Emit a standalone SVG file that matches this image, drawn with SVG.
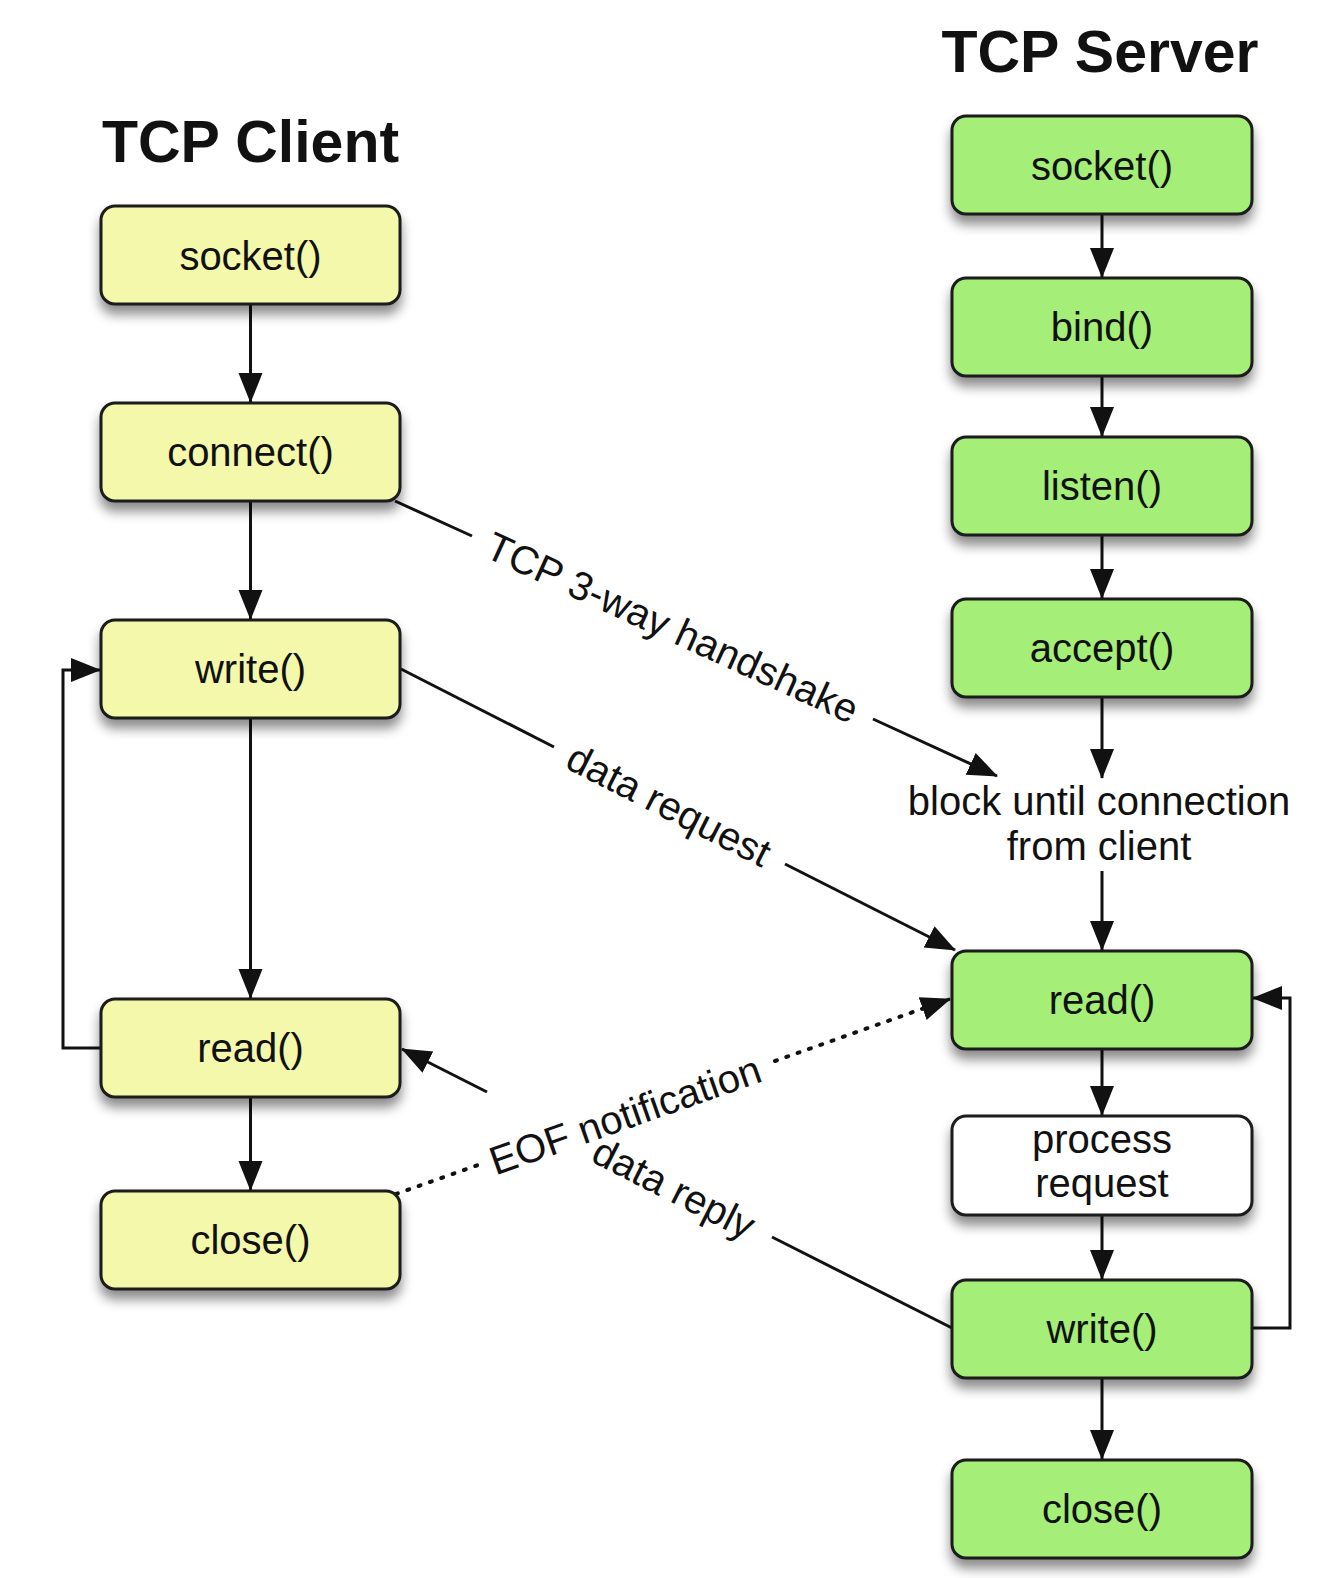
<svg xmlns="http://www.w3.org/2000/svg" width="1320" height="1578" viewBox="0 0 1320 1578">
  <defs>
    <filter id="shadow" x="-20%" y="-30%" width="140%" height="180%">
      <feDropShadow dx="0" dy="9" stdDeviation="6" flood-color="#000" flood-opacity="0.45"/>
    </filter>
    <marker id="arrow" markerUnits="userSpaceOnUse" markerWidth="30" markerHeight="26" viewBox="0 0 30 26" refX="29" refY="13" orient="auto">
      <path d="M0,1 L30,13 L0,25 z" fill="#111"/>
    </marker>
    <style>
      .title { font-family: "Liberation Sans", Arial, sans-serif; font-weight: bold; font-size: 59px; fill: #111; text-anchor: middle; }
      .lbl { font-family: "Liberation Sans", Arial, sans-serif; font-size: 40px; fill: #111; text-anchor: middle; }
      .box { stroke: #1a1a1a; stroke-width: 3; filter: url(#shadow); }
      .client { fill: #F3F8AA; }
      .server { fill: #A5EE77; }
      .plain { fill: #FFFFFF; }
      .conn { stroke: #111; stroke-width: 3; fill: none; }
      .dot { stroke: #111; stroke-width: 4; fill: none; stroke-dasharray: 2 10; stroke-linecap: round; }
    </style>
  </defs>
  <rect width="1320" height="1578" fill="#FFFFFF"/>

  <text class="title" x="250.5" y="162">TCP Client</text>
  <text class="title" x="1100" y="72">TCP Server</text>

  <g id="connectors">
    <!-- client column -->
    <line class="conn" x1="250.5" y1="305" x2="250.5" y2="402" marker-end="url(#arrow)"/>
    <line class="conn" x1="250.5" y1="502" x2="250.5" y2="619" marker-end="url(#arrow)"/>
    <line class="conn" x1="250.5" y1="718" x2="250.5" y2="998" marker-end="url(#arrow)"/>
    <line class="conn" x1="250.5" y1="1097" x2="250.5" y2="1190" marker-end="url(#arrow)"/>
    <path class="conn" d="M101,1048 H63 V670 H100" marker-end="url(#arrow)"/>
    <!-- server column -->
    <line class="conn" x1="1102" y1="214" x2="1102" y2="277" marker-end="url(#arrow)"/>
    <line class="conn" x1="1102" y1="376" x2="1102" y2="436" marker-end="url(#arrow)"/>
    <line class="conn" x1="1102" y1="535" x2="1102" y2="598" marker-end="url(#arrow)"/>
    <line class="conn" x1="1102" y1="697" x2="1102" y2="778" marker-end="url(#arrow)"/>
    <line class="conn" x1="1102" y1="871" x2="1102" y2="950" marker-end="url(#arrow)"/>
    <line class="conn" x1="1102" y1="1049" x2="1102" y2="1115" marker-end="url(#arrow)"/>
    <line class="conn" x1="1102" y1="1215" x2="1102" y2="1279" marker-end="url(#arrow)"/>
    <line class="conn" x1="1102" y1="1378" x2="1102" y2="1459" marker-end="url(#arrow)"/>
    <path class="conn" d="M1252,1328 H1290 V998 H1253" marker-end="url(#arrow)"/>
    <!-- TCP 3-way handshake -->
    <line class="conn" x1="395" y1="501" x2="472" y2="536"/>
    <line class="conn" x1="873" y1="719" x2="997" y2="776" marker-end="url(#arrow)"/>
    <text class="lbl" transform="translate(672.5,627.5) rotate(24.55)" x="0" y="14">TCP 3-way handshake</text>
    <!-- data request -->
    <line class="conn" x1="401" y1="669" x2="554" y2="747"/>
    <line class="conn" x1="785" y1="864" x2="955" y2="950" marker-end="url(#arrow)"/>
    <text class="lbl" transform="translate(669,805) rotate(26.94)" x="0" y="14">data request</text>
    <!-- data reply -->
    <line class="conn" x1="952" y1="1328" x2="772" y2="1237"/>
    <line class="conn" x1="487" y1="1092" x2="402" y2="1049" marker-end="url(#arrow)"/>
    <text class="lbl" transform="translate(674,1188) rotate(26.9)" x="0" y="14">data reply</text>
    <!-- EOF notification -->
    <line class="dot" x1="396" y1="1194" x2="478" y2="1165"/>
    <line class="dot" x1="775" y1="1061" x2="930" y2="1006"/>
    <line class="conn" x1="925" y1="1007.8" x2="950" y2="999" marker-end="url(#arrow)" stroke-width="1"/>
    <text class="lbl" transform="translate(625,1115) rotate(-19.4)" x="0" y="14">EOF notification</text>
  </g>

  <!-- client nodes -->
  <g id="c-socket"><rect class="box client" x="101" y="206" width="299" height="98" rx="14"/><text class="lbl" x="250.5" y="270">socket()</text></g>
  <g id="c-connect"><rect class="box client" x="101" y="403" width="299" height="98" rx="14"/><text class="lbl" x="250.5" y="466">connect()</text></g>
  <g id="c-write"><rect class="box client" x="101" y="620" width="299" height="98" rx="14"/><text class="lbl" x="250.5" y="683">write()</text></g>
  <g id="c-read"><rect class="box client" x="101" y="999" width="299" height="98" rx="14"/><text class="lbl" x="250.5" y="1062">read()</text></g>
  <g id="c-close"><rect class="box client" x="101" y="1191" width="299" height="98" rx="14"/><text class="lbl" x="250.5" y="1254">close()</text></g>

  <!-- server nodes -->
  <g id="s-socket"><rect class="box server" x="952" y="116" width="300" height="98" rx="14"/><text class="lbl" x="1102" y="180">socket()</text></g>
  <g id="s-bind"><rect class="box server" x="952" y="278" width="300" height="98" rx="14"/><text class="lbl" x="1102" y="341">bind()</text></g>
  <g id="s-listen"><rect class="box server" x="952" y="437" width="300" height="98" rx="14"/><text class="lbl" x="1102" y="500">listen()</text></g>
  <g id="s-accept"><rect class="box server" x="952" y="599" width="300" height="98" rx="14"/><text class="lbl" x="1102" y="662">accept()</text></g>
  <g id="s-block"><text class="lbl" x="1099" y="815">block until connection</text><text class="lbl" x="1099" y="860">from client</text></g>
  <g id="s-read"><rect class="box server" x="952" y="951" width="300" height="98" rx="14"/><text class="lbl" x="1102" y="1014">read()</text></g>
  <g id="s-process"><rect class="box plain" x="952" y="1116" width="300" height="99" rx="14"/><text class="lbl" x="1102" y="1153">process</text><text class="lbl" x="1102" y="1197">request</text></g>
  <g id="s-write"><rect class="box server" x="952" y="1280" width="300" height="98" rx="14"/><text class="lbl" x="1102" y="1343">write()</text></g>
  <g id="s-close"><rect class="box server" x="952" y="1460" width="300" height="98" rx="14"/><text class="lbl" x="1102" y="1523">close()</text></g>
</svg>
